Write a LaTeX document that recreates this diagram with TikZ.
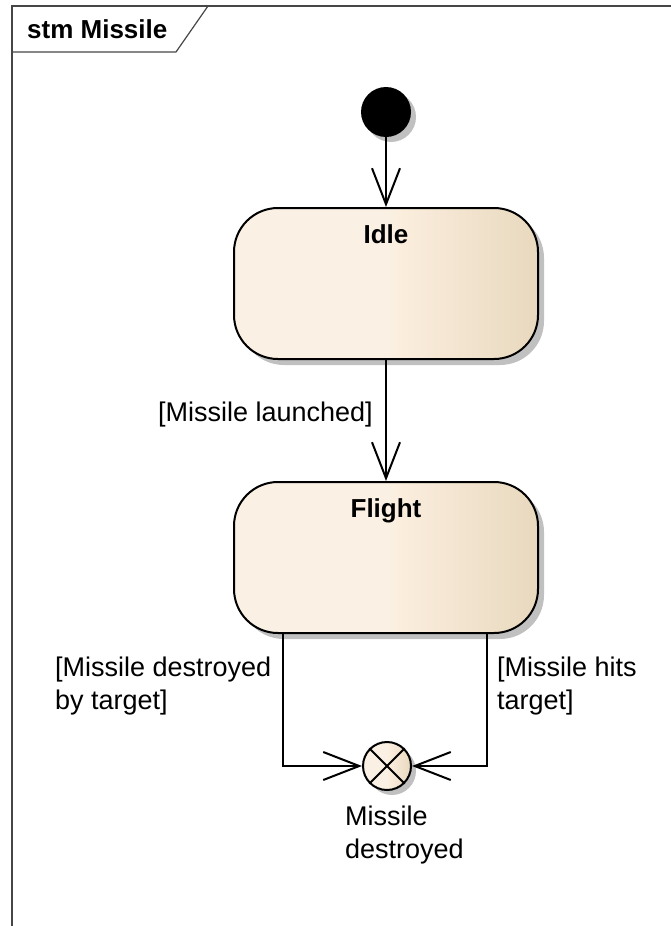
\documentclass[tikz,border=0pt]{standalone}
\usepackage{fontspec}
\setmainfont{Liberation Sans}
\usetikzlibrary{arrows.meta,shadows,calc}
\definecolor{stL}{RGB}{250,241,228}
\definecolor{stM}{RGB}{251,238,222}
\definecolor{stR}{RGB}{232,216,190}
\definecolor{shd}{RGB}{192,192,192}
\definecolor{framec}{RGB}{70,70,70}
\pgfdeclarehorizontalshading{stfill}{100bp}{color(0bp)=(stL); color(25bp)=(stL); color(50bp)=(stL); color(52bp)=(stM); color(75bp)=(stR); color(100bp)=(stR)}
\tikzset{
  statebox/.style={draw=black, line width=2pt, rounded corners=44pt, shading=stfill,
    minimum width=304pt, minimum height=151pt, inner sep=0pt,
    drop shadow={shadow xshift=6pt, shadow yshift=-6pt, fill=shd, opacity=1}},
  initstate/.style={circle, fill=black, minimum size=50pt, inner sep=0pt,
    drop shadow={shadow xshift=5pt, shadow yshift=-5pt, fill=shd, opacity=1}},
  finalstate/.style={circle, draw=black, line width=2pt, shading=stfill, minimum size=48pt, inner sep=0pt,
    drop shadow={shadow xshift=5pt, shadow yshift=-5pt, fill=shd, opacity=1}},
  arr/.style={line width=2pt, -{Straight Barb[length=36pt,width=28pt,line width=2pt]}},
  lbl/.style={font=\fontsize{27}{33}\selectfont, inner sep=0pt},
  blbl/.style={font=\fontsize{26}{30}\selectfont\bfseries, inner sep=0pt}
}
\begin{document}
\begin{tikzpicture}[x=1pt,y=-1pt]
\useasboundingbox (0,0) rectangle (671,926);
% frame
\draw[framec, line width=1.5pt] (12,926) -- (12,6) -- (671,6);
\draw[framec, line width=1.2pt] (12,52) -- (176,52) -- (208,6);
\node[blbl, anchor=base west] (title) at (27,38) {stm Missile};
% states
\node[initstate] (init) at (386,112) {};
\node[statebox] (idle) at (386,283.5) {};
\node[blbl, anchor=base] (idlet) at (386,243) {Idle};
\node[statebox] (flight) at (386,557.5) {};
\node[blbl, anchor=base] (flightt) at (386,517) {Flight};
\node[finalstate] (final) at (387,766) {};
\draw[line width=2pt] (final.north west) -- (final.south east);
\draw[line width=2pt] (final.north east) -- (final.south west);
% transitions
\draw[arr] (init) -- (idle);
\draw[arr] (idle) -- (flight);
\coordinate (fl) at (283,633);
\coordinate (fr) at (487,633);
\draw[arr] (fl) |- (final.west);
\draw[arr] (fr) |- (final.east);
% labels
\node[lbl, anchor=base east] (l1) at (373,421) {[Missile launched]};
\node[lbl, anchor=north west, align=left] (l2) at (55,657) {[Missile destroyed\\by target]};
\node[lbl, anchor=north west, align=left] (l3) at (497,657) {[Missile hits\\target]};
\node[lbl, anchor=north west, align=left] (l4) at (345,806) {Missile\\destroyed};
\end{tikzpicture}
\end{document}
